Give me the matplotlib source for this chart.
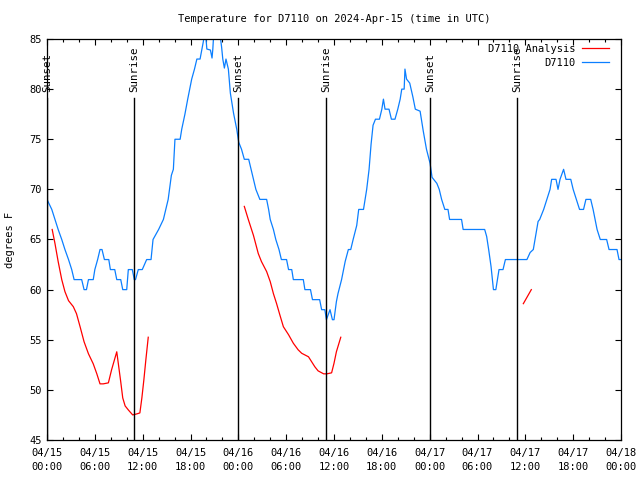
"""Temperature for D7110 on 2024-Apr-15 — observed vs analysis, with sunrise/sunset marks."""

import numpy as np
import pandas as pd
import matplotlib
matplotlib.use("Agg")
import matplotlib.pyplot as plt
import matplotlib.dates as mdates

T0 = pd.Timestamp("2024-04-15 00:00")

# observed D7110 (hours since T0, deg F)
obs_hours = [0.0, 0.6, 1.0, 1.4, 1.85, 2.25, 2.7, 3.1, 3.4, 4.35, 4.65, 4.95, 5.2, 5.8,
             6.0, 6.35, 6.65, 6.9, 7.2, 7.75, 7.95, 8.5, 8.75, 9.25, 9.5, 10.0, 10.2,
             10.7, 10.95, 11.1, 11.45, 11.95, 12.5, 13.05, 13.3, 14.0, 14.6, 15.2,
             15.6, 15.85, 16.05, 16.7, 16.9, 17.3, 17.65, 18.15, 18.5, 18.8, 19.2,
             19.6, 19.75, 19.85, 20.05, 20.5, 20.7, 20.8, 20.95, 21.5, 21.7, 21.9,
             22.05, 22.25, 22.45, 22.75, 23.0, 23.4, 23.8, 24.05, 24.4, 24.75, 25.3,
             25.6, 25.9, 26.2, 26.7, 27.55, 27.8, 28.0, 28.4, 28.7, 29.1, 29.4, 30.05,
             30.3, 30.7, 30.9, 32.15, 32.35, 33.05, 33.3, 34.2, 34.45, 34.85, 35.05,
             35.5, 35.8, 36.0, 36.3, 36.5, 36.95, 37.4, 37.8, 38.1, 38.4, 38.85, 39.1,
             39.7, 40.1, 40.4, 40.65, 40.9, 41.2, 41.7, 42.0, 42.2, 42.4, 42.9, 43.2,
             43.65, 44.0, 44.3, 44.5, 44.8, 44.9, 45.1, 45.5, 45.9, 46.2, 46.8, 47.2,
             47.6, 48.05, 48.3, 48.9, 49.2, 49.5, 49.9, 50.3, 50.5, 52.0, 52.2, 54.9,
             55.15, 55.4, 55.7, 56.0, 56.3, 56.5, 56.7, 57.2, 57.5, 60.2, 60.6, 61.0,
             61.3, 61.6, 61.8, 62.3, 62.7, 63.1, 63.3, 63.85, 64.1, 64.35, 64.8, 65.1,
             65.7, 66.0, 66.4, 66.8, 67.3, 67.6, 68.2, 68.5, 68.75, 69.0, 69.4, 70.2,
             70.5, 71.5, 71.75, 72.0]
obs_temps = [69, 68, 67, 66, 65, 64, 63, 62, 61, 61, 60, 60, 61, 61,
             62, 63, 64, 64, 63, 63, 62, 62, 61, 61, 60, 60, 62,
             62, 61, 61, 62, 62, 63, 63, 65, 66, 67, 69,
             71.4, 72, 75, 75, 76, 77.5, 79, 81, 82, 83, 83,
             84.7, 85.5, 86, 84, 83.9, 83.1, 84, 86, 86, 85.5, 84.2,
             83, 82.1, 83, 82, 79.6, 77.6, 76, 74.7, 74, 73, 73,
             72, 71, 70, 69, 69, 68, 67, 66, 65, 64, 63, 63,
             62, 62, 61, 61, 60, 60, 59, 59, 58, 58, 57,
             58, 57, 57, 58.8, 59.6, 61, 62.8, 64, 64, 65, 66.4, 68,
             68, 70, 72, 74.5, 76.4, 77, 77, 78, 79, 78, 78, 77,
             77, 78, 79, 80, 80, 82, 81, 80.6, 79.2, 78, 77.8, 75.8,
             74, 72.6, 71.2, 70.6, 70, 69, 68, 68, 67, 67, 66, 66,
             65.3, 64, 62.3, 60, 60, 61, 62, 62, 63, 63, 63.7, 64,
             65.4, 66.8, 67, 68, 69, 70, 71, 71, 70, 71, 72, 71,
             71, 70, 69, 68, 68, 69, 69, 68, 67, 66, 65, 65,
             64, 64, 63, 63]

# D7110 Analysis (NaN = gap)
ana_hours = [0.65, 1.0, 1.4, 1.85, 2.25, 2.7, 3.3, 3.7, 4.15, 4.65, 5.2, 5.8, 6.25,
             6.65, 7.05, 7.7, 8.1, 8.75, 8.95, 9.25, 9.5, 9.8, 10.2, 10.75, 11.25,
             11.65, 11.9, 12.15, 12.4, 12.7, 18.0,
             24.75, 25.25, 25.9, 26.5, 26.9, 27.55, 28.0, 28.4, 28.8, 29.2, 29.65,
             30.3, 30.9, 31.5, 31.95, 32.8, 33.2, 33.6, 34.0, 34.7, 35.1, 35.7, 36.0,
             36.3, 36.85, 48.0,
             59.75, 60.25, 60.75]
ana_temps = [66.0, 64.6, 62.8, 61.0, 59.8, 58.9, 58.3, 57.6, 56.3, 54.8, 53.6, 52.6, 51.6,
             50.6, 50.6, 50.7, 52.0, 53.8, 52.6, 50.8, 49.2, 48.4, 48.0, 47.5, 47.6,
             47.7, 49.2, 51.0, 53.0, 55.25, np.nan,
             68.3, 67.0, 65.4, 63.6, 62.8, 61.8, 60.8, 59.6, 58.6, 57.5, 56.3,
             55.5, 54.65, 54.0, 53.65, 53.3, 52.8, 52.3, 51.9, 51.6, 51.6, 51.7, 52.65,
             53.8, 55.25, np.nan,
             58.6, 59.3, 60.0]

sun_hours = [0.02, 10.95, 24.0, 35.05, 48.05, 59.0]
sun_labels = ["Sunset", "Sunrise", "Sunset", "Sunrise", "Sunset", "Sunrise"]

plt.rcParams["font.family"] = "DejaVu Sans Mono"
plt.rcParams["font.size"] = 7.5


def to_time(hours):
    return T0 + pd.to_timedelta(np.asarray(hours, dtype=float), unit="h")


fig = plt.figure(figsize=(6.4, 4.8), dpi=100)
ax = fig.add_axes([47 / 640, 40 / 480, 574 / 640, 401 / 480])

ax.plot(to_time(ana_hours), ana_temps, color="#ff0000", lw=0.9, label="D7110 Analysis")
ax.plot(to_time(obs_hours), obs_temps, color="#0b7fff", lw=0.9, label="D7110")

for h, lab in zip(sun_hours, sun_labels):
    t = to_time([h])[0]
    ax.plot([t, t], [45, 79.1], color="black", lw=1.0)
    ax.text(t, 79.7, lab, rotation=90, ha="center", va="bottom", fontsize=7.8)

ax.set_xlim(T0, T0 + pd.Timedelta(hours=72))
ax.set_ylim(45, 85)
ax.set_yticks(range(45, 86, 5))
ax.xaxis.set_major_locator(mdates.HourLocator(byhour=[0, 6, 12, 18]))
ax.xaxis.set_minor_locator(mdates.HourLocator(byhour=range(0, 24, 2)))
ax.xaxis.set_major_formatter(mdates.DateFormatter("%m/%d\n%H:%M"))
ax.tick_params(which="both", direction="in", top=True, right=True, width=0.8)
ax.tick_params(which="major", length=4.5, pad=6)
ax.tick_params(which="minor", length=2.5)
ax.tick_params(axis="y", pad=4)
for s in ax.spines.values():
    s.set_linewidth(0.9)

ax.set_ylabel("degrees F", labelpad=10)
ax.set_title("Temperature for D7110 on 2024-Apr-15 (time in UTC)", fontsize=7.5, pad=12)

ax.legend(loc="upper right", bbox_to_anchor=(0.982, 0.993), frameon=False,
          markerfirst=False, handlelength=2.6, borderaxespad=0, borderpad=0.2,
          labelspacing=0.35, handletextpad=0.6)

fig.canvas.draw()
for lbl in ax.get_xticklabels():
    lbl.set_linespacing(1.5)

fig.savefig("out.png", dpi=100)
